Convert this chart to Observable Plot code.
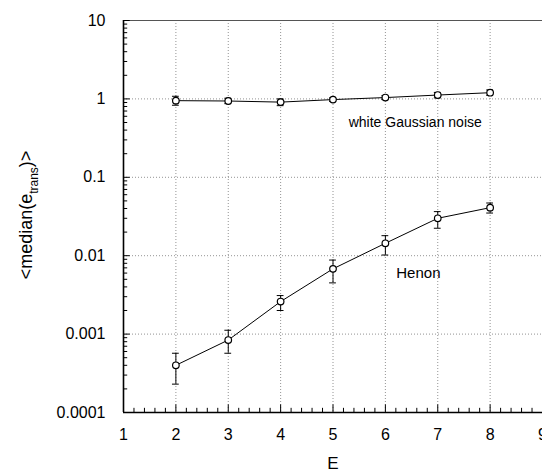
<!DOCTYPE html>
<html>
<head>
<meta charset="utf-8">
<script src="https://cdn.jsdelivr.net/npm/d3@7"></script>
<script src="https://cdn.jsdelivr.net/npm/@observablehq/plot@0.6"></script>
<style>
  html, body { margin: 0; padding: 0; background: #fff; }
  #chart { width: 542px; height: 474px; overflow: hidden; }
</style>
</head>
<body>
<div id="chart"></div>
<script>
// ---- data ----
const E = [2, 3, 4, 5, 6, 7, 8];
const noiseMedian = [0.95, 0.94, 0.91, 0.98, 1.04, 1.12, 1.20];
const noiseLow    = [0.83, 0.87, 0.82, 0.93, 0.98, 1.03, 1.11];
const noiseHigh   = [1.08, 1.02, 1.00, 1.03, 1.10, 1.21, 1.30];
const henonMedian = [0.00040, 0.00084, 0.0026, 0.0068, 0.0144, 0.030, 0.041];
const henonLow    = [0.00023, 0.00057, 0.0020, 0.0045, 0.0102, 0.0224, 0.035];
const henonHigh   = [0.00057, 0.00112, 0.0031, 0.0088, 0.0180, 0.0365, 0.047];
const xTicks = [1, 2, 3, 4, 5, 6, 7, 8, 9];
const yTicks = [0.0001, 0.001, 0.01, 0.1, 1, 10];
const yTickLabels = ["0.0001", "0.001", "0.01", "0.1", "1", "10"];
const seriesLabels = ["white Gaussian noise", "Henon"];
const xTitle = "E";

// ---- build table ----
const rows = [];
E.forEach((e, i) => {
  rows.push({series: "noise", E: e, v: noiseMedian[i], lo: noiseLow[i], hi: noiseHigh[i]});
});
E.forEach((e, i) => {
  rows.push({series: "henon", E: e, v: henonMedian[i], lo: henonLow[i], hi: henonHigh[i]});
});
const minorY = [];
for (let d = -4; d < 1; d++) for (let m = 2; m <= 9; m++) minorY.push(m * Math.pow(10, d));
const minorX = [];
for (let i = 1; i < 9; i++) for (let k = 1; k <= 4; k++) minorX.push(+(i + k * 0.2).toFixed(1));

const yMin = yTicks[0], yMax = yTicks[yTicks.length - 1];
const xMin = xTicks[0], xMax = xTicks[xTicks.length - 1];
const capHalf = 0.065;          // half width of error-bar caps in E units
const minorLenX = 0.08;         // length of y-axis minor ticks in E units
const minorLenY = 1.13;         // multiplicative length of x-axis minor ticks
const majorLenY = 1.25;

const font = "'Liberation Sans', Arial, Helvetica, sans-serif";
const dotted = {stroke: "#777", strokeWidth: 0.8, strokeDasharray: "1,2"};

const chart = Plot.plot({
  width: 542,
  height: 474,
  marginLeft: 123,
  marginRight: 0,
  marginTop: 20,
  marginBottom: 62,
  style: {fontFamily: font, fontSize: "16px", background: "#fff", color: "#000"},
  x: {domain: [xMin, xMax]},
  y: {type: "log", domain: [yMin, yMax]},
  marks: [
    // grid
    Plot.ruleY(yTicks.slice(1, -1), {...dotted}),
    Plot.ruleX(xTicks.slice(1), {...dotted}),
    Plot.ruleY([yMax], {stroke: "#555", strokeWidth: 1}),
    // minor ticks
    Plot.ruleY(minorY, {x1: xMin, x2: xMin + minorLenX, stroke: "#000", strokeWidth: 1}),
    Plot.ruleY(yTicks, {x1: xMin, x2: xMin + minorLenX * 1.6, stroke: "#000", strokeWidth: 1}),
    Plot.ruleX(minorX, {y1: yMin, y2: yMin * minorLenY, stroke: "#000", strokeWidth: 1}),
    Plot.ruleX(xTicks, {y1: yMin, y2: yMin * majorLenY, stroke: "#000", strokeWidth: 1}),
    // axes lines
    Plot.ruleX([xMin], {stroke: "#000", strokeWidth: 1.6}),
    Plot.ruleY([yMin], {stroke: "#000", strokeWidth: 1.6}),
    // axis labels
    Plot.axisY({ticks: yTicks, tickSize: 0, tickPadding: 18, fontSize: 16,
      tickFormat: d => yTickLabels[yTicks.indexOf(d)], label: null}),
    Plot.axisX({ticks: xTicks, tickSize: 0, tickPadding: 16, fontSize: 16,
      tickFormat: d => String(d), label: null}),
    // series
    Plot.line(rows, {x: "E", y: "v", z: "series", stroke: "#000", strokeWidth: 1}),
    Plot.ruleX(rows, {x: "E", y1: "lo", y2: "hi", stroke: "#000", strokeWidth: 1}),
    Plot.ruleY(rows, {y: "lo", x1: d => d.E - capHalf, x2: d => d.E + capHalf, stroke: "#000", strokeWidth: 1}),
    Plot.ruleY(rows, {y: "hi", x1: d => d.E - capHalf, x2: d => d.E + capHalf, stroke: "#000", strokeWidth: 1}),
    Plot.dot(rows, {x: "E", y: "v", r: 3.3, stroke: "#000", fill: "#fff", strokeWidth: 1.2}),
    // series labels
    Plot.text([seriesLabels[0]], {x: 6.57, y: 0.5, text: d => d, fontSize: 14, textAnchor: "middle", fill: "#000"}),
    Plot.text([seriesLabels[1]], {x: 6.63, y: 0.006, text: d => d, fontSize: 15, textAnchor: "middle", fill: "#000"}),
    // x title
    Plot.text([xTitle], {frameAnchor: "bottom", dy: 56, text: d => d, fontSize: 17, fill: "#000"})
  ]
});

// y-axis title with subscript
const svg = d3.select(chart);
const t = svg.append("text")
  .attr("transform", "translate(32,215) rotate(-90)")
  .attr("text-anchor", "middle")
  .attr("font-family", font)
  .attr("font-size", 18)
  .attr("fill", "#000");
t.append("tspan").text("<median(e");
t.append("tspan").attr("font-size", 12).attr("dy", 6).text("trans");
t.append("tspan").attr("dy", -6).text(")>");

document.getElementById("chart").appendChild(chart);
</script>
</body>
</html>
